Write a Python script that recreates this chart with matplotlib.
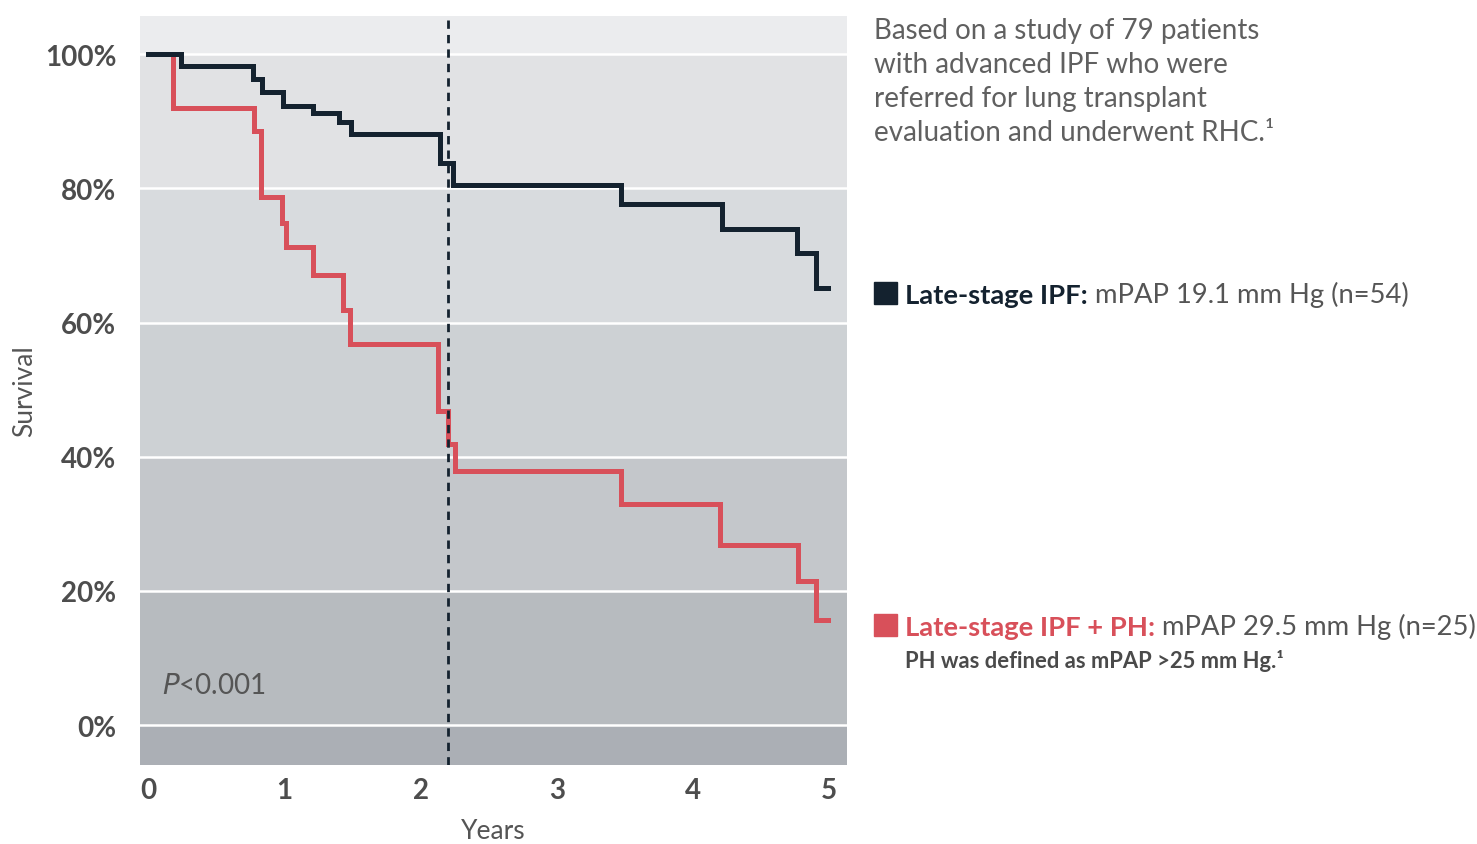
import matplotlib
matplotlib.use("Agg")
import matplotlib.pyplot as plt

# ---- data ----
black_t = [0, 0.24, 0.77, 0.84, 0.99, 1.21, 1.40, 1.49, 2.14, 2.24, 3.47, 4.21, 4.76, 4.90, 4.99]
black_s = [100, 98.3, 96.3, 94.4, 92.3, 91.2, 89.9, 88.1, 83.8, 80.5, 77.6, 73.9, 70.3, 65.2, 65.2]
red_t = [0, 0.18, 0.78, 0.83, 0.98, 1.01, 1.21, 1.43, 1.48, 2.13, 2.20, 2.25, 3.47, 4.20, 4.77, 4.90, 4.99]
red_s = [100, 92.0, 88.6, 78.7, 74.8, 71.2, 67.1, 61.9, 56.8, 46.8, 41.9, 37.8, 32.9, 26.9, 21.4, 15.7, 15.7]
x_ticks = [0, 1, 2, 3, 4, 5]
y_ticks = [0, 20, 40, 60, 80, 100]
y_labels = ["0%", "20%", "40%", "60%", "80%", "100%"]
vline_t = 2.20

NAVY = "#14222f"
RED = "#d8505a"
GREY = "#555555"
FONT = ["Lato", "DejaVu Sans"]

plt.rcParams["font.family"] = FONT

fig = plt.figure(figsize=(14.77, 8.45), dpi=100)
ax = fig.add_axes([140 / 1477, 1 - 766 / 845, 707 / 1477, 749 / 845])

x0, x1 = -0.059, 5.13
y0, y1 = -5.96, 105.7
ax.set_xlim(x0, x1)
ax.set_ylim(y0, y1)

band_edges = [y0, 0, 20, 40, 60, 80, 100, y1]
band_cols = ["#abafb5", "#b7bbbf", "#c4c7cb", "#cdd1d4", "#d8dbde", "#e1e2e4", "#ebecee"]
for lo, hi, c in zip(band_edges[:-1], band_edges[1:], band_cols):
    ax.axhspan(lo, hi, color=c, lw=0, zorder=0)
for y in y_ticks:
    ax.axhline(y, color="white", lw=1.8, zorder=1)

ax.step(red_t, red_s, where="post", color=RED, lw=3.6, zorder=3, solid_joinstyle="miter")
ax.step(black_t, black_s, where="post", color=NAVY, lw=3.6, zorder=4, solid_joinstyle="miter")
ax.axvline(vline_t, color=NAVY, lw=2, ls=(0, (3, 2.2)), zorder=5)

for s in ax.spines.values():
    s.set_visible(False)
ax.tick_params(length=0)
ax.set_xticks(x_ticks)
ax.set_xticklabels([str(v) for v in x_ticks], fontsize=20, fontweight="bold", color="#4d4d4d")
ax.set_yticks(y_ticks)
ax.set_yticklabels(y_labels, fontsize=20, fontweight="bold", color="#4d4d4d")
ax.tick_params(axis="x", pad=9)
ax.tick_params(axis="y", pad=17)
ax.set_xlabel("Years", fontsize=19, color=GREY, labelpad=10.5)
ax.set_ylabel("Survival", fontsize=19, color=GREY)
ax.yaxis.set_label_coords(-0.145, 0.5)

ax.text(0.10, 5.9, "$\\it{P}$<0.001", fontsize=20, color=GREY, va="center", ha="left",
        zorder=6)

# ---- right side text ----
note = ("Based on a study of 79 patients\nwith advanced IPF who were\n"
        "referred for lung transplant\nevaluation and underwent RHC.\u00b9")
fig.text(874 / 1477, 1 - 18 / 845, note, fontsize=20, color="#606060", va="top", ha="left",
         fontweight="normal", linespacing=1.38)


def legend_line(ypix, color, bold, rest):
    fig.patches.append(plt.Rectangle((874 / 1477, 1 - (ypix + 11) / 845), 23 / 1477, 22 / 845,
                                     transform=fig.transFigure, color=color, figure=fig))
    t1 = fig.text(905 / 1477, 1 - ypix / 845, bold, fontsize=19.7, fontweight="bold",
                  color=color, va="center_baseline", ha="left")
    ann = plt.annotate(" " + rest, xy=(1, 0), xycoords=t1, va="bottom", ha="left",
                       fontsize=19.7, color=GREY, annotation_clip=False)
    return ann


legend_line(294, NAVY, "Late-stage IPF:", "mPAP 19.1 mm Hg (n=54)")
legend_line(626, RED, "Late-stage IPF + PH:", "mPAP 29.5 mm Hg (n=25)")
fig.text(905 / 1477, 1 - 661 / 845, "PH was defined as mPAP >25 mm Hg.\u00b9", fontsize=15.8,
         fontweight="bold", color="#4a4a4a", va="center", ha="left")

fig.savefig("out.png", dpi=100, facecolor="white")
